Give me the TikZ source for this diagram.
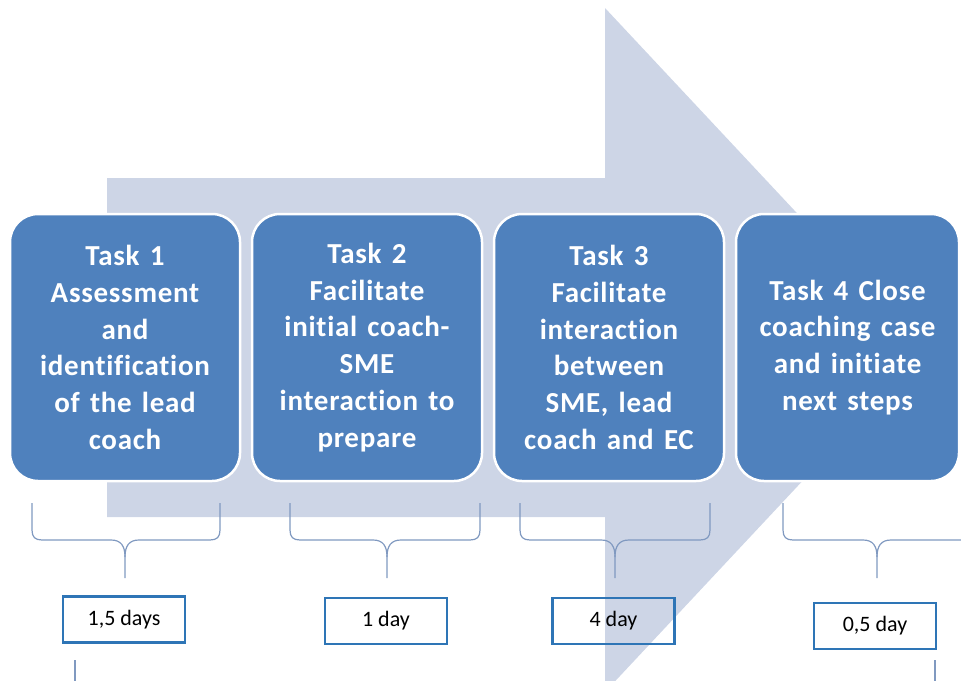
\documentclass[tikz,border=0pt]{standalone}
\usepackage{fontspec}
\setmainfont{Carlito}
\newfontfamily\taskfont[LetterSpace=2.5,Ligatures=NoCommon,WordSpace=1.4]{Carlito}
\definecolor{arrowgrey}{HTML}{CDD5E6}
\definecolor{taskblue}{HTML}{4F81BD}
\definecolor{bracecol}{HTML}{8099C0}
\definecolor{labelblue}{HTML}{2E75B6}
\newcommand{\tbrace}[3]{%
  \draw[bracepath] (#1,503) -- (#1,530) .. controls (#1,537) and (#1+3,540) .. (#1+10,540)
    -- (#2-14,540) .. controls (#2-4,540) and (#2,546) .. (#2,557) -- (#2,578);
  \draw[bracepath] (#2,557) .. controls (#2,546) and (#2+4,540) .. (#2+14,540)
    -- (#3-10,540) .. controls (#3-3,540) and (#3,537) .. (#3,530) -- (#3,503);
}
\begin{document}
\begin{tikzpicture}[x=1pt,y=-1pt,
  taskbox/.style={fill=taskblue, draw=white, line width=2.5pt, rounded corners=28pt,
    minimum height=267pt, text=white, align=center,
    font=\taskfont\fontsize{29}{36.8}\selectfont\bfseries, inner sep=0pt},
  daybox/.style={draw=labelblue, line width=2.5pt, minimum width=122pt, minimum height=46pt,
    font=\fontsize{22}{26}\selectfont, inner sep=0pt},
  bracepath/.style={draw=bracecol, line width=1.2pt}]
\useasboundingbox (0,0) rectangle (961,680);
% big background arrow
\fill[arrowgrey] (107,178) -- (605,178) -- (605,8) -- (925,350) -- (605,692) -- (605,517) -- (107,517) -- cycle;
% task boxes
\node[taskbox, minimum width=230pt] (t1) at (125,347.5) {Task 1\\Assessment\\and\\identification\\of the lead\\coach};
\node[taskbox, minimum width=230pt] (t2) at (367,347.5) {Task 2\\Facilitate\\initial coach-\\SME\\interaction to\\prepare};
\node[taskbox, minimum width=230pt] (t3) at (609,347.5) {Task 3\\Facilitate\\interaction\\between\\SME, lead\\coach and EC};
\node[taskbox, minimum width=223pt] (t4) at (847.5,347.5) {Task 4 Close\\coaching case\\and initiate\\next steps};
% braces
\tbrace{32}{125}{220}
\tbrace{290}{387}{480}
\tbrace{520}{615}{710}
\tbrace{783}{877}{975}
% day labels
\node[daybox] (d1) at (124,619.5) {1,5 days};
\node[daybox] (d2) at (386,621) {1 day};
\node[daybox] (d3) at (613.5,621) {4 day};
\node[daybox] (d4) at (875,626) {0,5 day};
% short lines below
\coordinate (l1a) at (75,660);
\coordinate (l1b) at (75,682);
\coordinate (l4a) at (935,660);
\coordinate (l4b) at (935,682);
\draw[bracepath] (l1a) -- (l1b);
\draw[bracepath] (l4a) -- (l4b);
\end{tikzpicture}
\end{document}
